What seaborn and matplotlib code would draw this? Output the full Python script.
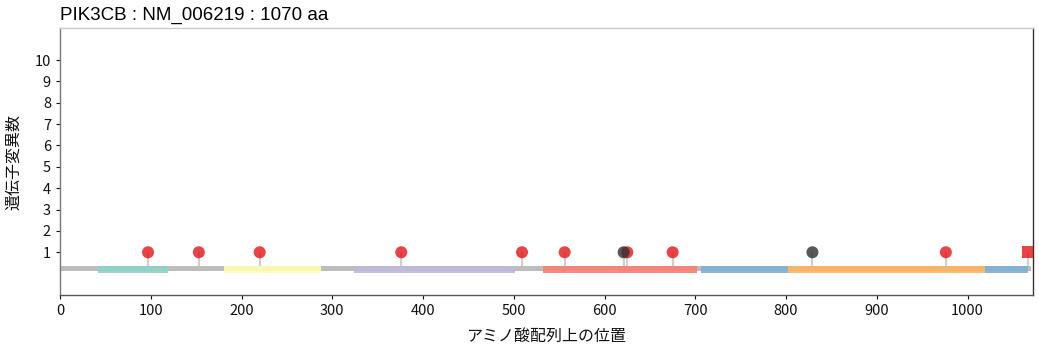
import matplotlib
matplotlib.use("Agg")
import matplotlib.pyplot as plt
import seaborn as sns
import pandas as pd

# ---- data ----
gene_title = "PIK3CB : NM_006219 : 1070 aa"
protein_length = 1070

domain_starts = [42, 181, 324, 532, 706, 802, 1019]
domain_ends = [119, 288, 501, 702, 802, 1019, 1067]
domain_colors = ["#8dd3c7", "#ffffb3", "#bebada", "#fb8072", "#80b1d3", "#fdb462", "#80b1d3"]

mut_positions = [97, 153, 220, 376, 509, 556, 625, 675, 976, 621, 829, 1067]
mut_counts = [1, 1, 1, 1, 1, 1, 1, 1, 1, 1, 1, 1]
mut_types = ["missense"] * 9 + ["other", "other", "truncating"]

xticks = list(range(0, 1001, 100))
yticks = list(range(1, 11))

sns.set_theme(style="white")
plt.rcParams["font.family"] = ["Noto Sans CJK JP", "DejaVu Sans"]
plt.rcParams["text.color"] = "#111111"
plt.rcParams["axes.labelcolor"] = "#111111"

fig = plt.figure(figsize=(10.39, 3.5), dpi=100)
ax = fig.add_axes([60 / 1039, 1 - 295 / 350, (1033 - 60) / 1039, (295 - 28) / 350])

# backbone
ax.barh([0.23], [protein_length], left=[0], height=0.235, color="#bdbdbd",
        linewidth=0, zorder=1)
# domains
widths = [e - s for s, e in zip(domain_starts, domain_ends)]
ax.barh([0.185] * len(domain_starts), widths, left=domain_starts, height=0.33,
        color=domain_colors, alpha=0.92, linewidth=0, zorder=2)

df = pd.DataFrame({"pos": mut_positions, "count": mut_counts, "type": mut_types})
# stems
ax.vlines(df["pos"], 0.35, df["count"], color="#cfcfcf", linewidth=1.5, zorder=3)

palette = {"missense": "#e41a1c", "other": "#333333", "truncating": "#e41a1c"}
markers = {"missense": "o", "other": "o", "truncating": "s"}
sns.scatterplot(data=df, x="pos", y="count", hue="type", style="type",
                palette=palette, markers=markers, s=75, alpha=0.82,
                edgecolor="none", legend=False, ax=ax, zorder=4, clip_on=True)

ax.set_xlim(0, 1072)
ax.set_ylim(-1, 11.5)
ax.set_xticks(xticks)
ax.set_yticks(yticks)
ax.tick_params(axis="both", which="both", labelsize=10.5, length=3, width=0.8,
               colors="#111111", left=True, bottom=True)
ax.set_xlabel("アミノ酸配列上の位置", fontsize=11.5, labelpad=7)
ax.set_ylabel("遺伝子変異数", fontsize=11.5, labelpad=9)
ax.set_title(gene_title, loc="left", fontsize=13.5, pad=6, color="#000000",
             family=["Liberation Sans", "DejaVu Sans"])

ax.spines["top"].set_color("#cccccc")
ax.spines["right"].set_color("#333333")
ax.spines["left"].set_color("#777777")
ax.spines["bottom"].set_color("#555555")
for sp in ax.spines.values():
    sp.set_linewidth(1.0)

fig.savefig("out.png", dpi=100)
